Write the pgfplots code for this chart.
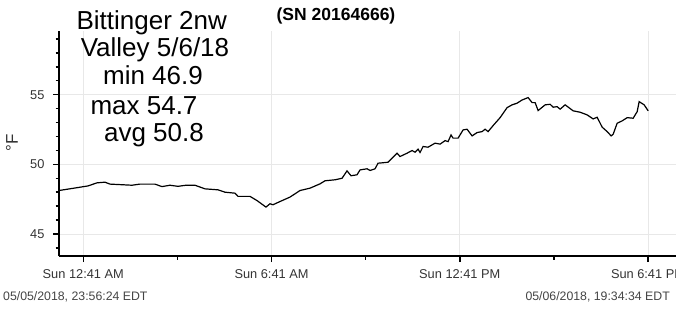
\documentclass[border=0pt]{standalone}
\usepackage{fontspec}
\setmainfont{Liberation Sans}
\usepackage{pgfplots}
\pgfplotsset{compat=1.18}
\definecolor{tickgray}{HTML}{333333}
\definecolor{dategray}{HTML}{444444}
\definecolor{gridgray}{HTML}{E8E8E8}
\begin{document}
\begin{tikzpicture}[x=1pt,y=1pt]
\path[use as bounding box] (0,0) rectangle (676,308);
\clip (0,0) rectangle (676,308);
\begin{axis}[
  at={(59pt,52pt)}, anchor=south west,
  scale only axis, width=617pt, height=225pt,
  xmin=-0.09, xmax=19.576, ymin=43.42, ymax=59.57,
  axis lines=left,
  axis line style={-, line width=1.8pt, black},
  xtick={0.6833,6.6833,12.6833,18.6833},
  xticklabels={Sun 12:41 AM, Sun 6:41 AM, Sun 12:41 PM, Sun 6:41 PM},
  minor xtick={3.6833,9.6833,15.6833},
  ytick={45,50,55},
  minor ytick={44,46,47,48,49,51,52,53,54,56,57,58,59},
  /pgf/number format/assume math mode=true,
  tick align=outside,
  major tick length=6pt, minor tick length=3.5pt,
  tick style={black, line width=1.5pt},
  grid=major,
  major grid style={gridgray, line width=0.8pt},
  ticklabel style={font=\fontsize{12.8}{14}\selectfont, text=tickgray},
  xticklabel style={yshift=-4pt},
  yticklabel style={xshift=-5pt},
  clip=false,
]
\addplot[black, line width=1.2pt] coordinates {
(-0.09,48.12) (0.418,48.3) (0.833,48.45) (1.120,48.67) (1.375,48.72) (1.534,48.58)
(2.236,48.5) (2.49,48.58) (2.969,48.58) (3.192,48.4) (3.447,48.5) (3.702,48.42)
(3.957,48.5) (4.244,48.5) (4.563,48.24) (4.977,48.17) (5.2,48.0) (5.519,47.93)
(5.615,47.7) (5.997,47.7) (6.22,47.4) (6.507,46.93) (6.635,47.17) (6.731,47.1)
(6.954,47.33) (7.273,47.65) (7.592,48.12) (7.911,48.29) (8.23,48.6) (8.389,48.82)
(8.708,48.89) (8.931,49.0) (9.09,49.53) (9.218,49.18) (9.409,49.25) (9.505,49.6)
(9.728,49.68) (9.824,49.56) (9.983,49.68) (10.079,50.08) (10.398,50.15) (10.685,50.8)
(10.78,50.56) (11.004,50.8) (11.163,50.99) (11.259,50.87) (11.354,51.09) (11.418,50.85)
(11.514,51.28) (11.673,51.23) (11.896,51.52) (12.056,51.45) (12.215,51.7) (12.311,51.63)
(12.406,52.11) (12.47,51.88) (12.63,51.88) (12.79,52.47) (12.917,52.52) (13.076,52.04)
(13.236,52.28) (13.395,52.35) (13.491,52.52) (13.587,52.35) (13.746,52.78) (13.969,53.35)
(14.192,54.07) (14.352,54.27) (14.511,54.39) (14.671,54.62) (14.862,54.79) (14.99,54.43)
(15.086,54.43) (15.181,53.86) (15.405,54.27) (15.564,54.31) (15.66,54.1) (15.787,54.14)
(15.883,53.96) (16.042,54.27) (16.297,53.84) (16.52,53.74) (16.743,53.55) (16.935,53.26)
(17.062,53.38) (17.222,52.67) (17.381,52.35) (17.509,52.04) (17.573,52.16) (17.7,52.95)
(17.86,53.12) (18.019,53.35) (18.21,53.31) (18.338,53.78) (18.402,54.5) (18.561,54.27)
(18.689,53.84)
};
\end{axis}
\node[rotate=90, text=tickgray, font=\fontsize{17}{19}\selectfont] at (12,165) {°F};
\node[anchor=base, font=\bfseries\fontsize{17.5}{20}\selectfont, inner sep=0pt] at (336,287.3) {(SN 20164666)};
\begin{scope}[every node/.style={anchor=base, inner sep=0pt, font=\fontsize{26}{28}\selectfont}]
\node at (151.7,278.7) {Bittinger 2nw};
\node at (155,251.3) {Valley 5/6/18};
\node at (153,223) {min 46.9};
\node at (144,193.7) {max 54.7};
\node at (154,166.3) {avg 50.8};
\end{scope}
\node[anchor=base west, inner sep=0pt, text=dategray, font=\fontsize{12.3}{15}\selectfont] at (3,8) {05/05/2018, 23:56:24 EDT};
\node[anchor=base east, inner sep=0pt, text=dategray, font=\fontsize{12.3}{15}\selectfont] at (670,8) {05/06/2018, 19:34:34 EDT};
\end{tikzpicture}
\end{document}
